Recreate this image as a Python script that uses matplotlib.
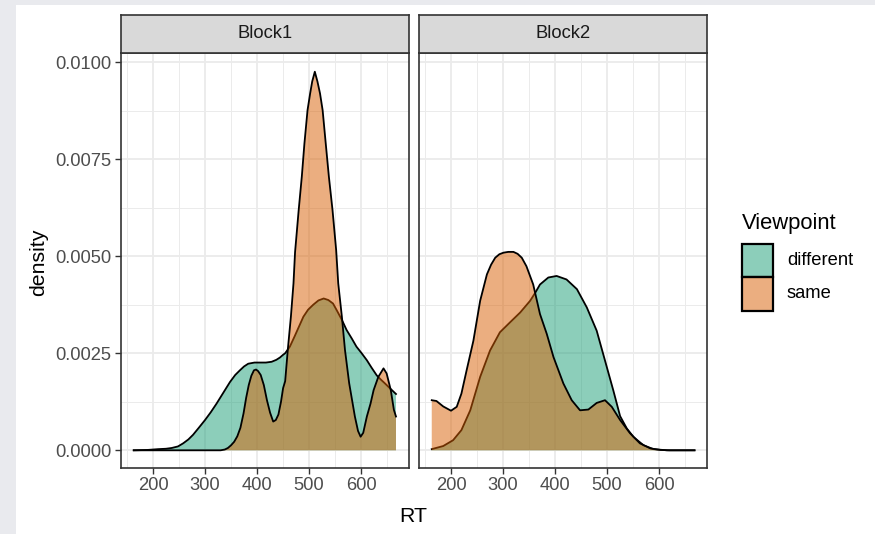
import matplotlib
matplotlib.use("Agg")
import matplotlib.pyplot as plt
from matplotlib.patches import Rectangle
from matplotlib.ticker import MultipleLocator

plt.rcParams['font.family'] = ['Liberation Sans', 'DejaVu Sans']

# ---- data ----
facets = ["Block1", "Block2"]
groups = ["different", "same"]
fill_colors = {"different": "#1b9e77", "same": "#d95f02"}

b1_diff_x = [163, 190, 210, 225, 236, 248, 258, 268, 277, 288, 300, 311, 322, 335, 348, 358,
             367, 375, 383, 395, 406, 417, 428, 437, 444, 450, 454, 463, 472, 481, 489, 498,
             508, 518, 528, 537, 546, 553, 563, 572, 582, 591, 601, 611, 620, 630, 638, 646,
             656, 667]
b1_diff_y = [0.0, 0.00001, 0.00003, 0.00004, 0.00006, 0.0001, 0.00018, 0.00028, 0.0004, 0.00058,
             0.00078, 0.00098, 0.0012, 0.00148, 0.00176, 0.00194, 0.00206, 0.00216, 0.00223,
             0.00226, 0.00226, 0.00226, 0.00228, 0.00233, 0.00239, 0.00246, 0.0025, 0.00267,
             0.00293, 0.0032, 0.00344, 0.00362, 0.00375, 0.00386, 0.00391, 0.00387, 0.00378,
             0.00361, 0.00336, 0.0031, 0.00288, 0.00267, 0.0025, 0.00232, 0.00213, 0.00193,
             0.00182, 0.00172, 0.00159, 0.00145]

b1_same_x = [163, 330, 338, 344, 350, 356, 362, 368, 374, 379, 384, 389, 394, 398, 402, 407,
             413, 419, 425, 431, 436, 441, 446, 450, 454, 459, 465, 470, 473, 480, 486, 491,
             497, 502, 506, 511, 516, 521, 526, 532, 538, 545, 552, 556, 563, 569, 577, 588,
             594, 599, 604, 611, 618, 624, 633, 643, 649, 657, 663, 667]
b1_same_y = [0.0, 0.0, 0.00002, 0.00006, 0.00013, 0.00022, 0.00036, 0.00058, 0.00095, 0.00135,
             0.00168, 0.00192, 0.00206, 0.00208, 0.00204, 0.00194, 0.00168, 0.00129, 0.00097,
             0.00074, 0.00078, 0.00092, 0.00125, 0.0016, 0.00178, 0.00258, 0.00344, 0.0043,
             0.0051, 0.00619, 0.00705, 0.0079, 0.00876, 0.00919, 0.0095, 0.00975, 0.0095,
             0.00919, 0.00876, 0.0079, 0.00705, 0.00619, 0.00516, 0.0043, 0.00344, 0.00258,
             0.00173, 0.00087, 0.0005, 0.00035, 0.00045, 0.00087, 0.0012, 0.00155, 0.00189,
             0.00211, 0.00198, 0.00155, 0.00104, 0.00087]

b2_diff_x = [163, 185, 204, 220, 237, 256, 275, 294, 313, 333, 352, 362, 371, 387, 403, 422,
             442, 461, 480, 496, 512, 525, 538, 551, 570, 589, 615, 668]
b2_diff_y = [0.00003, 0.00011, 0.00026, 0.00052, 0.00103, 0.00189, 0.00257, 0.00304, 0.00329,
             0.00355, 0.00385, 0.00406, 0.00427, 0.00445, 0.00449, 0.0044, 0.00415, 0.00368,
             0.00308, 0.00231, 0.00154, 0.00088, 0.00056, 0.00034, 0.00013, 0.00003, 0.0, 0.0]

b2_same_x = [163, 172, 185, 200, 211, 220, 230, 243, 256, 269, 277, 285, 293, 301, 310, 320,
             328, 336, 345, 358, 371, 384, 397, 416, 432, 448, 464, 480, 496, 509, 525, 544,
             563, 583, 602, 620, 668]
b2_same_y = [0.00129, 0.00127, 0.00113, 0.00102, 0.00112, 0.00146, 0.00206, 0.00282, 0.00385,
             0.00453, 0.00478, 0.00496, 0.00505, 0.00509, 0.00511, 0.00511, 0.00506, 0.00496,
             0.00474, 0.00427, 0.00351, 0.003, 0.0024, 0.00172, 0.00129, 0.00103, 0.00105,
             0.00122, 0.00129, 0.00112, 0.00078, 0.00044, 0.00018, 0.00005, 0.00001, 0.0, 0.0]

curves = {
    "Block1": {"different": (b1_diff_x, b1_diff_y), "same": (b1_same_x, b1_same_y)},
    "Block2": {"different": (b2_diff_x, b2_diff_y), "same": (b2_same_x, b2_same_y)},
}
x_ticks = [200, 300, 400, 500, 600]
y_ticks = [0.0, 0.0025, 0.005, 0.0075, 0.01]
x_label = "RT"
y_label = "density"
legend_title = "Viewpoint"

# ---- figure ----
W, H = 875, 534
fig = plt.figure(figsize=(W / 100, H / 100), dpi=100)
fig.patch.set_facecolor("#e9eaee")
fig.add_artist(Rectangle((16 / W, 0), 1 - 16 / W, (H - 5) / H, transform=fig.transFigure,
                         facecolor="white", edgecolor="none", zorder=-10))

def fx(px):
    return px / W

def fy(py):
    return 1 - py / H

panel_lefts = [121, 419]
panel_w = 288
top, bottom = 53, 467.7
strip_top = 15
edge = "#333333"
tick_fs = 13.2
title_fs = 15.3

for i, facet in enumerate(facets):
    left = panel_lefts[i]
    ax = fig.add_axes([fx(left), fy(bottom), panel_w / W, (bottom - top) / H])
    ax.set_xlim(138.5, 692)
    ax.set_ylim(-0.000448, 0.010232)
    ax.xaxis.set_major_locator(MultipleLocator(100))
    ax.xaxis.set_minor_locator(MultipleLocator(50))
    ax.set_xticks(x_ticks)
    ax.set_yticks(y_ticks)
    ax.yaxis.set_minor_locator(MultipleLocator(0.00125))
    ax.grid(which="major", color="#ebebeb", lw=1.3)
    ax.grid(which="minor", color="#ebebeb", lw=0.7)
    ax.set_axisbelow(True)
    for s in ax.spines.values():
        s.set_color(edge)
        s.set_linewidth(1.2)
        s.set_zorder(5)
    ax.tick_params(which="minor", length=0)
    ax.tick_params(which="major", length=4, width=1.0, color=edge, labelcolor="#4d4d4d",
                   labelsize=tick_fs, pad=3)
    if i == 0:
        ax.set_yticklabels([f"{v:.4f}" for v in y_ticks])
    else:
        ax.tick_params(axis="y", left=False, labelleft=False)
    ax.set_xticklabels([str(v) for v in x_ticks])

    for g in groups:
        xs, ys = curves[facet][g]
        ax.fill_between(xs, ys, 0, facecolor=fill_colors[g], alpha=0.5, lw=0, zorder=2)
        ax.plot(xs, ys, color="black", lw=1.3, zorder=2, solid_joinstyle="round")

    sax = fig.add_axes([fx(left), fy(top), panel_w / W, (top - strip_top) / H])
    sax.set_facecolor("#d9d9d9")
    sax.set_xticks([])
    sax.set_yticks([])
    for s in sax.spines.values():
        s.set_color(edge)
        s.set_linewidth(1.2)
    sax.text(0.5, 0.5, facet, transform=sax.transAxes, ha="center", va="center",
             fontsize=tick_fs, color="#1a1a1a")

# axis titles
fig.text(fx(413), fy(516), x_label, ha="center", va="center", fontsize=title_fs)
fig.text(fx(39), fy(262), y_label, ha="center", va="center", rotation=90, fontsize=title_fs)

# legend
fig.text(fx(742), fy(224), legend_title, ha="left", va="center", fontsize=title_fs + 0.5)
key_x, key_w, key_h = 741.7, 31.6, 33.3
key_tops = [244, 277.3]
for g, kt in zip(groups, key_tops):
    fig.add_artist(Rectangle((fx(key_x), fy(kt + key_h)), key_w / W, key_h / H,
                             transform=fig.transFigure, facecolor=fill_colors[g], alpha=0.5,
                             edgecolor="none"))
    fig.add_artist(Rectangle((fx(key_x), fy(kt + key_h)), key_w / W, key_h / H,
                             transform=fig.transFigure, facecolor="none",
                             edgecolor="black", lw=1.6))
    fig.text(fx(787), fy(kt + key_h / 2), g, ha="left", va="center", fontsize=tick_fs)

fig.savefig("out.png", dpi=100)
